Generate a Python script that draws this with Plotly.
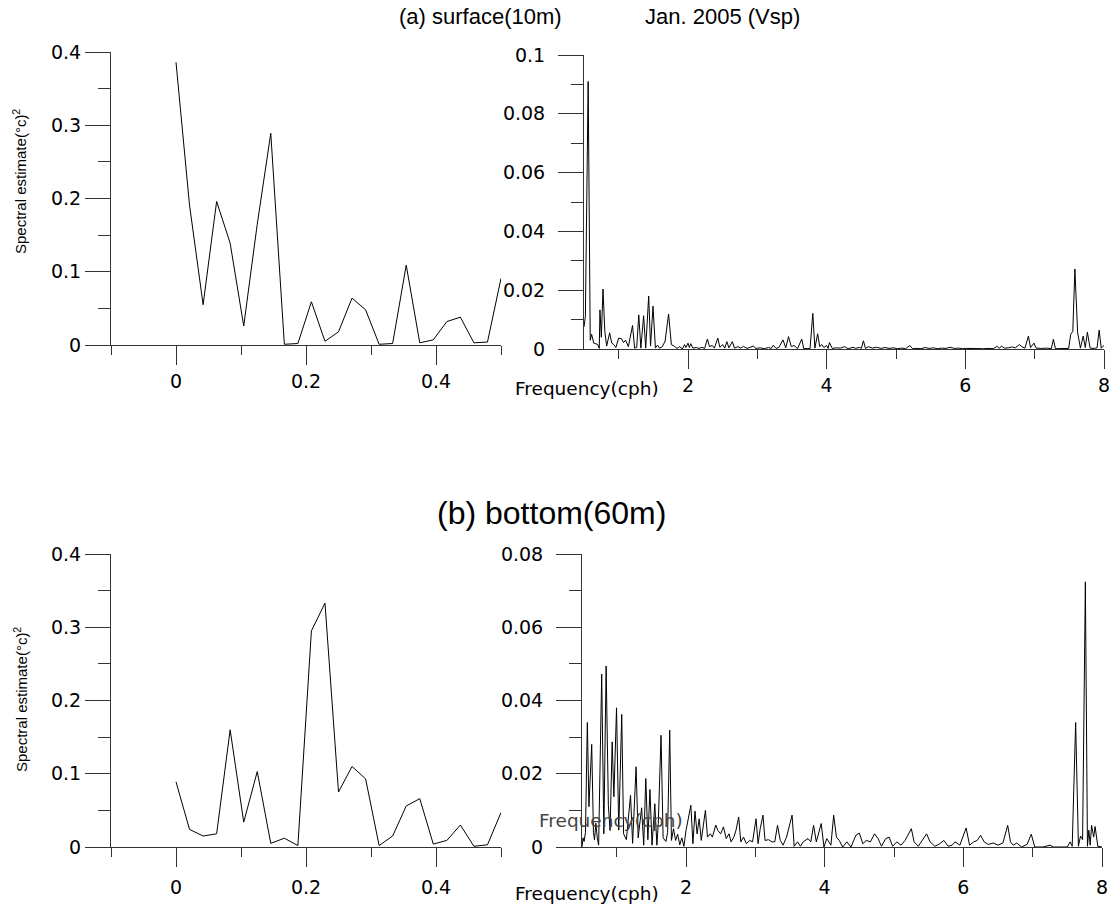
import plotly.graph_objects as go

W, H = 1115, 907

# ---------------- data ----------------
low_freq = [0.0, 0.0208, 0.0417, 0.0625, 0.0833, 0.1042, 0.125, 0.1458, 0.1667,
            0.1875, 0.2083, 0.2292, 0.25, 0.2708, 0.2917, 0.3125, 0.3333, 0.3542,
            0.375, 0.3958, 0.4167, 0.4375, 0.4583, 0.4792, 0.5]
surf_low = [0.386, 0.191, 0.055, 0.196, 0.139, 0.026, 0.165, 0.289, 0.001, 0.002,
            0.059, 0.005, 0.018, 0.064, 0.048, 0.001, 0.002, 0.109, 0.003, 0.007,
            0.032, 0.038, 0.003, 0.004, 0.091]
bot_low = [0.089, 0.024, 0.015, 0.018, 0.160, 0.034, 0.103, 0.005, 0.012, 0.002,
           0.295, 0.333, 0.075, 0.110, 0.093, 0.002, 0.015, 0.056, 0.066, 0.004,
           0.009, 0.030, 0.001, 0.003, 0.047]

surf_hf_freq = [0.50, 0.52, 0.56, 0.59, 0.61, 0.64, 0.67, 0.70, 0.72, 0.73, 0.75, 0.774,
                0.80, 0.827, 0.87, 0.90, 0.93, 0.96, 1.00, 1.04, 1.07, 1.10, 1.14, 1.20,
                1.23, 1.26, 1.29, 1.32, 1.36, 1.39, 1.433, 1.46, 1.495, 1.53, 1.56, 1.59,
                1.63, 1.67, 1.72, 1.76, 1.80, 1.84, 1.88, 1.92, 1.95, 1.97, 2.00, 2.02,
                2.04, 2.07, 2.12, 2.16, 2.20, 2.24, 2.28, 2.31, 2.35, 2.38, 2.43, 2.46,
                2.50, 2.53, 2.56, 2.59, 2.64, 2.67, 2.72, 2.76, 2.80, 2.85, 2.90, 2.94,
                2.98, 3.04, 3.10, 3.16, 3.20, 3.23, 3.27, 3.31, 3.37, 3.41, 3.45, 3.49,
                3.53, 3.58, 3.64, 3.67, 3.72, 3.76, 3.80, 3.83, 3.87, 3.90, 3.93, 3.96,
                4.00, 4.02, 4.04, 4.08, 4.14, 4.20, 4.26, 4.31, 4.38, 4.42, 4.47, 4.50,
                4.53, 4.56, 4.60, 4.66, 4.72, 4.78, 4.84, 4.90, 4.96, 5.02, 5.08, 5.14,
                5.20, 5.24, 5.30, 5.36, 5.42, 5.48, 5.54, 5.60, 5.66, 5.72, 5.78, 5.84,
                5.90, 5.96, 6.02, 6.10, 6.18, 6.26, 6.34, 6.40, 6.46, 6.49, 6.52, 6.56,
                6.62, 6.68, 6.72, 6.78, 6.82, 6.86, 6.91, 6.94, 6.99, 7.02, 7.10, 7.18,
                7.24, 7.27, 7.30, 7.38, 7.46, 7.49, 7.52, 7.55, 7.58, 7.62, 7.66, 7.70,
                7.73, 7.76, 7.80, 7.86, 7.90, 7.93, 7.96, 8.00]
surf_hf = [0.0075, 0.011, 0.091, 0.003, 0.005, 0.002, 0.0018, 0.0015, 0.0002, 0.0133, 0.004, 0.0204,
           0.006, 0.001, 0.0055, 0.002, 0.0015, 0.0005, 0.0037, 0.0035, 0.0022, 0.003, 0.0008, 0.008,
           0.0003, 0.0005, 0.0116, 0.0003, 0.0113, 0.0003, 0.018, 0.001, 0.0146, 0.0003, 0.0013, 0.0003,
           0.0008, 0.0027, 0.0119, 0.0015, 0.001, 0.0002, 0.0008, 0.0, 0.0015, 0.0005, 0.002, 0.0005,
           0.0018, 0.0003, 0.0005, 0.0002, 0.0006, 0.0002, 0.0034, 0.0008, 0.0012, 0.0003, 0.0037, 0.0006,
           0.0015, 0.0003, 0.0025, 0.0004, 0.0025, 0.0003, 0.0008, 0.0003, 0.0009, 0.0002, 0.0006, 0.001,
           0.0002, 0.0004, 0.0001, 0.0005, 0.0002, 0.0013, 0.0002, 0.0005, 0.0031, 0.0004, 0.0042, 0.0008,
           0.0012, 0.0001, 0.0034, 0.0001, 0.0002, 0.0001, 0.0121, 0.0003, 0.0052, 0.0008, 0.0015, 0.0005,
           0.0012, 0.0002, 0.0022, 0.0002, 0.0004, 0.0003, 0.0008, 0.0001, 0.0006, 0.0002, 0.0006, 0.0002,
           0.0028, 0.0002, 0.0008, 0.0003, 0.0006, 0.0002, 0.0005, 0.0002, 0.0004, 0.0001, 0.0003, 0.0001,
           0.0012, 0.0001, 0.0002, 0.0001, 0.0005, 0.0002, 0.0004, 0.0001, 0.0003, 0.0002, 0.0006, 0.0002,
           0.0003, 0.0001, 0.0002, 0.0001, 0.0002, 0.0001, 0.0002, 0.0001, 0.0009, 0.0002, 0.001, 0.0003,
           0.0004, 0.0007, 0.0004, 0.0015, 0.0007, 0.0003, 0.0044, 0.0005, 0.002, 0.0003, 0.0002, 0.0003,
           0.0001, 0.0033, 0.0001, 0.0002, 0.0001, 0.0002, 0.005, 0.006, 0.0272, 0.0055, 0.0003, 0.0044,
           0.0005, 0.0057, 0.0003, 0.0002, 0.0004, 0.0064, 0.0003, 0.0012]

bot_hf_freq = [0.50, 0.515, 0.53, 0.55, 0.577, 0.60, 0.64, 0.665, 0.68, 0.70, 0.72, 0.74,
               0.784, 0.815, 0.848, 0.88, 0.905, 0.935, 0.96, 0.998, 1.03, 1.073, 1.10, 1.14,
               1.20, 1.23, 1.28, 1.31, 1.36, 1.39, 1.42, 1.45, 1.48, 1.51, 1.55, 1.58,
               1.60, 1.64, 1.67, 1.71, 1.735, 1.765, 1.79, 1.82, 1.85, 1.88, 1.91, 1.94,
               1.97, 2.00, 2.07, 2.10, 2.13, 2.16, 2.19, 2.22, 2.28, 2.31, 2.35, 2.38,
               2.43, 2.46, 2.50, 2.54, 2.58, 2.62, 2.65, 2.69, 2.72, 2.76, 2.79, 2.83,
               2.87, 2.92, 2.96, 3.01, 3.04, 3.07, 3.11, 3.14, 3.19, 3.24, 3.28, 3.32,
               3.36, 3.40, 3.45, 3.53, 3.56, 3.61, 3.65, 3.69, 3.76, 3.80, 3.84, 3.88,
               3.95, 3.99, 4.03, 4.09, 4.13, 4.17, 4.21, 4.26, 4.32, 4.38, 4.45, 4.50,
               4.55, 4.60, 4.66, 4.72, 4.77, 4.82, 4.88, 4.93, 4.98, 5.04, 5.10, 5.16,
               5.25, 5.29, 5.35, 5.41, 5.47, 5.52, 5.59, 5.66, 5.72, 5.78, 5.84, 5.88,
               5.95, 6.04, 6.09, 6.15, 6.20, 6.25, 6.30, 6.36, 6.43, 6.50, 6.57, 6.64,
               6.68, 6.72, 6.77, 6.84, 6.92, 6.98, 7.03, 7.15, 7.25, 7.30, 7.40, 7.50,
               7.54, 7.57, 7.62, 7.66, 7.69, 7.72, 7.76, 7.79, 7.81, 7.83, 7.85, 7.88,
               7.90, 7.94, 8.00]
bot_hf = [0.0, 0.0025, 0.0015, 0.004, 0.034, 0.011, 0.028, 0.004, 0.002, 0.0065, 0.0025, 0.0005,
          0.0472, 0.0036, 0.0494, 0.0114, 0.0045, 0.0287, 0.0137, 0.038, 0.0046, 0.0362, 0.0036, 0.002,
          0.0141, 0.001, 0.0219, 0.0025, 0.0107, 0.0005, 0.0187, 0.002, 0.0157, 0.0005, 0.0118, 0.0005,
          0.0064, 0.0305, 0.0025, 0.0015, 0.004, 0.0319, 0.0018, 0.005, 0.0018, 0.0035, 0.0006, 0.0025,
          0.0002, 0.0045, 0.0114, 0.0009, 0.0098, 0.0036, 0.0077, 0.0018, 0.01, 0.0027, 0.0036, 0.0027,
          0.006, 0.0045, 0.0036, 0.0055, 0.0023, 0.0036, 0.0014, 0.0027, 0.0045, 0.0082, 0.0014, 0.0027,
          0.0009, 0.0018, 0.0014, 0.0077, 0.0009, 0.005, 0.0087, 0.0018, 0.002, 0.0014, 0.0014, 0.0059,
          0.0018, 0.0005, 0.0027, 0.0087, 0.0002, 0.0014, 0.0002, 0.0014, 0.0023, 0.0014, 0.0059, 0.0014,
          0.0064, 0.0, 0.0023, 0.0005, 0.0087, 0.0027, 0.0018, 0.0, 0.0014, 0.0, 0.0032, 0.0038,
          0.0009, 0.0018, 0.0014, 0.0036, 0.0023, 0.0002, 0.0023, 0.0027, 0.0002, 0.0014, 0.0005, 0.0018,
          0.005, 0.0014, 0.0002, 0.0018, 0.0036, 0.0014, 0.0002, 0.0009, 0.0018, 0.0002, 0.0005, 0.0014,
          0.0005, 0.0052, 0.0005, 0.0014, 0.0018, 0.0032, 0.0014, 0.0007, 0.0011, 0.0005, 0.0011, 0.0059,
          0.0014, 0.0005, 0.0011, 0.0, 0.0007, 0.0035, 0.0, 0.0, 0.0005, 0.0, 0.0, 0.0,
          0.0014, 0.0002, 0.034, 0.0002, 0.003, 0.002, 0.0724, 0.0002, 0.0046, 0.0005, 0.0059, 0.0027,
          0.0056, 0.0002, 0.0]

low_xticks = [0, 0.2, 0.4]
low_xticktext = ["0", "0.2", "0.4"]
low_xminor = [-0.1, 0.1, 0.3, 0.5]
low_yticks = [0, 0.1, 0.2, 0.3, 0.4]
low_yticktext = ["0", "0.1", "0.2", "0.3", "0.4"]
low_yminor = [0.05, 0.15, 0.25, 0.35]
hf_xticks = [2, 4, 6, 8]
hf_xticktext = ["2", "4", "6", "8"]
hf_xminor = [1, 3, 5, 7]
surf_hf_yticks = [0, 0.02, 0.04, 0.06, 0.08, 0.1]
surf_hf_yticktext = ["0", "0.02", "0.04", "0.06", "0.08", "0.1"]
surf_hf_yminor = [0.01, 0.03, 0.05, 0.07, 0.09]
bot_hf_yticks = [0, 0.02, 0.04, 0.06, 0.08]
bot_hf_yticktext = ["0", "0.02", "0.04", "0.06", "0.08"]
bot_hf_yminor = [0.01, 0.03, 0.05, 0.07]

# ---------------- figure ----------------
def px_x(p):
    return p / W

def px_y(p):
    return 1 - p / H

AX = "#333333"
TICKFONT = dict(family="DejaVu Sans", size=19, color="black")

def xstyle(dom, rng, tv, tt, minor_tv, anchor, standoff):
    return dict(domain=dom, range=rng, anchor=anchor, showline=True, linecolor=AX,
                linewidth=1, ticks="outside", ticklen=19, tickwidth=1, tickcolor=AX,
                tickvals=tv, ticktext=tt, tickfont=TICKFONT, showgrid=False,
                zeroline=False, fixedrange=True, ticklabelstandoff=standoff, automargin=False,
                minor=dict(tickvals=minor_tv, ticks="outside", ticklen=9,
                           tickcolor=AX, tickwidth=1, showgrid=False))

def ystyle(dom, rng, tv, tt, minor_tv, anchor, standoff):
    return dict(domain=dom, range=rng, anchor=anchor, showline=True, linecolor=AX,
                linewidth=1, ticks="outside", ticklen=25, tickwidth=1, tickcolor=AX,
                tickvals=tv, ticktext=tt, tickfont=TICKFONT, showgrid=False,
                zeroline=False, fixedrange=True, automargin=False, ticklabelstandoff=standoff,
                minor=dict(tickvals=minor_tv, ticks="outside", ticklen=12,
                           tickcolor=AX, tickwidth=1, showgrid=False))

fig = go.Figure()
line = dict(color="black", width=1)
fig.add_trace(go.Scatter(x=low_freq, y=surf_low, mode="lines", line=line, xaxis="x", yaxis="y"))
fig.add_trace(go.Scatter(x=surf_hf_freq, y=surf_hf, mode="lines", line=line, xaxis="x2", yaxis="y2"))
fig.add_trace(go.Scatter(x=low_freq, y=bot_low, mode="lines", line=line, xaxis="x3", yaxis="y3"))
fig.add_trace(go.Scatter(x=bot_hf_freq, y=bot_hf, mode="lines", line=line, xaxis="x4", yaxis="y4"))

top_y = [px_y(345), px_y(52)]
top_y2 = [px_y(349), px_y(55)]
bot_y = [px_y(847), px_y(554)]
left_x = [px_x(111), px_x(501)]
right_x_top = [px_x(584), px_x(1104)]
right_x_bot = [px_x(582), px_x(1102)]

fig.update_layout(
    width=W, height=H, margin=dict(l=0, r=0, t=0, b=0, pad=0, autoexpand=False),
    paper_bgcolor="white", plot_bgcolor="white", showlegend=False,
    xaxis=xstyle(left_x, [-0.1, 0.5], low_xticks, low_xticktext, low_xminor, "y", 0),
    yaxis=ystyle(top_y, [0, 0.4], low_yticks, low_yticktext, low_yminor, "x", 0),
    xaxis2=xstyle(right_x_top, [0.5, 8], hf_xticks, hf_xticktext, hf_xminor, "y2", 0),
    yaxis2=ystyle(top_y2, [0, 0.1], surf_hf_yticks, surf_hf_yticktext, surf_hf_yminor, "x2", 9),
    xaxis3=xstyle(left_x, [-0.1, 0.5], low_xticks, low_xticktext, low_xminor, "y3", 4),
    yaxis3=ystyle(bot_y, [0, 0.4], low_yticks, low_yticktext, low_yminor, "x3", 0),
    xaxis4=xstyle(right_x_bot, [0.5, 8], hf_xticks, hf_xticktext, hf_xminor, "y4", 4),
    yaxis4=ystyle(bot_y, [0, 0.08], bot_hf_yticks, bot_hf_yticktext, bot_hf_yminor, "x4", 9),
)

def ann(text, x, y, size, family="Liberation Sans", color="black", angle=0):
    fig.add_annotation(text=text, x=px_x(x), y=px_y(y), xref="paper", yref="paper",
                       xanchor="center", yanchor="middle", showarrow=False,
                       textangle=angle, font=dict(family=family, size=size, color=color))

ann("(a) surface(10m)", 480, 16, 22)
ann("Jan. 2005 (Vsp)", 722, 16, 22)
ann("(b) bottom(60m)", 551, 513, 32)
ann("Spectral estimate(°c)<sup>2</sup>", 20, 182, 15, angle=-90)
ann("Spectral estimate(°c)<sup>2</sup>", 20, 700, 15, angle=-90)
ann("Frequency(cph)", 587, 389, 18.5, family="DejaVu Sans")
ann("Frequency(cph)", 587, 893, 18.5, family="DejaVu Sans")
ann("Frequency(cph)", 611, 820, 18.5, family="DejaVu Sans", color="#444444")

fig.write_html("out.html",
               config={"displayModeBar": False, "staticPlot": True},
               post_script="document.body.style.margin='0px';document.body.style.overflow='hidden';")
